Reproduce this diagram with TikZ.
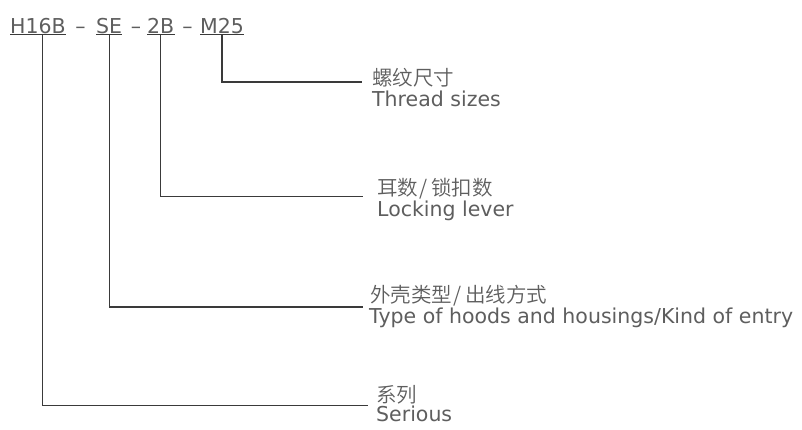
\documentclass[tikz,border=0pt]{standalone}
\usepackage{fontspec}
\setmainfont{DejaVu Sans}
\IfFontExistsTF{Noto Sans CJK SC DemiLight}{\newfontfamily\cjk{Noto Sans CJK SC DemiLight}}{\newfontfamily\cjk{Noto Sans CJK SC}}
\definecolor{txt}{HTML}{5E5E5E}
\definecolor{ln}{HTML}{3A3A3A}
\newcommand{\cjkslash}{\kern1pt/\kern4pt}
\begin{document}
\begin{tikzpicture}[x=1pt,y=-1pt,
  code/.style={font=\fontsize{20.5}{24}\selectfont, text=txt, inner xsep=0pt, inner ysep=1.7pt, text depth=0pt, anchor=base west},
  dashnode/.style={font=\fontsize{20.5}{24}\selectfont, text=txt, inner sep=0pt, anchor=base},
  uline/.style={draw=ln, line width=1pt},
  conn/.style={draw=ln, line width=1.3pt},
  cn/.style={font=\cjk\fontsize{20.5}{24}\selectfont, text=txt, inner sep=0pt, anchor=base west},
  en/.style={font=\fontsize{20.5}{24}\selectfont, text=txt, inner sep=0pt, anchor=base west}]
\useasboundingbox (0,0) rectangle (802,429);
% code string
\node[code] (h16b) at (10,33) {H16B};
\node[dashnode] (d1) at (80.5,33) {–};
\node[code] (se) at (96,33) {SE};
\node[dashnode] (d2) at (136,33) {–};
\node[code] (tb) at (147,33) {2B};
\node[dashnode] (d3) at (187.5,33) {–};
\node[code] (m25) at (200,33) {M25};
\foreach \n in {h16b,se,tb,m25} \draw[uline] (\n.south west) -- (\n.south east);
% labels
\node[cn] (cnM) at (372,85) {螺纹尺寸};
\node[en] (enM) at (372,106.7) {Thread sizes};
\node[cn] (cnB) at (377,195) {耳数\cjkslash 锁扣数};
\node[en] (enB) at (377,216.7) {Locking lever};
\node[cn] (cnS) at (370,302) {外壳类型\cjkslash 出线方式};
\node[en] (enS) at (369,323) {Type of hoods and housings/Kind of entry};
\node[cn] (cnH) at (376,402) {系列};
\node[en] (enH) at (376,421.7) {Serious};
% connector ends
\coordinate (endM) at (362,82);
\coordinate (endB) at (363,196.5);
\coordinate (endS) at (363,307);
\coordinate (endH) at (368,405.5);
% connectors
\draw[conn] (m25.south) |- (endM);
\draw[conn] (tb.south) |- (endB);
\draw[conn] (se.south) |- (endS);
\draw[conn] ([xshift=4.5pt]h16b.south) |- (endH);
\end{tikzpicture}
\end{document}
